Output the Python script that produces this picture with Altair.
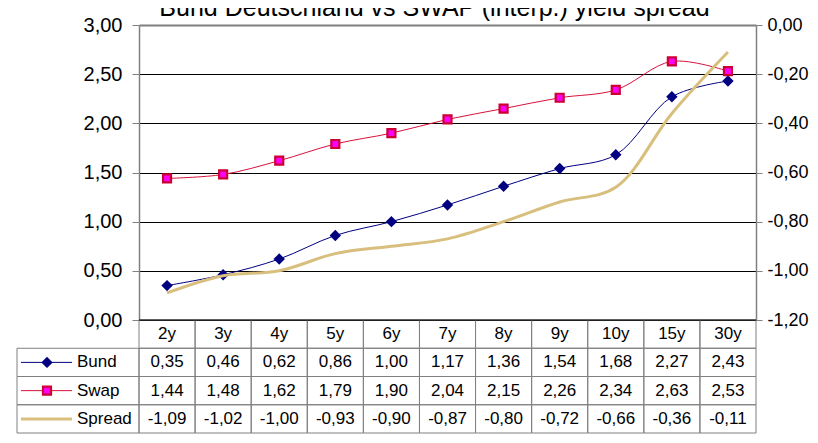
import altair as alt
import pandas as pd

# ---------------- data ----------------
cats = ["2y", "3y", "4y", "5y", "6y", "7y", "8y", "9y", "10y", "15y", "30y"]
bund = [0.35, 0.46, 0.62, 0.86, 1.00, 1.17, 1.36, 1.54, 1.68, 2.27, 2.43]
swap = [1.44, 1.48, 1.62, 1.79, 1.90, 2.04, 2.15, 2.26, 2.34, 2.63, 2.53]
spread = [-1.09, -1.02, -1.00, -0.93, -0.90, -0.87, -0.80, -0.72, -0.66, -0.36, -0.11]
series_names = ["Bund", "Swap", "Spread"]
table_rows = ["hdr", "Bund", "Swap", "Spread"]
title_text = "Bund Deutschland vs SWAP (interp.) yield spread"
left_ticks = [0.0, 0.5, 1.0, 1.5, 2.0, 2.5, 3.0]
right_ticks = [-1.2, -1.0, -0.8, -0.6, -0.4, -0.2, 0.0]

# ---------------- style ----------------
FONT = "Liberation Sans"
NAVY = "#000080"
CRIMSON = "#D8103C"
SQ_EDGE = "#CC0033"
MAGENTA = "#FF00FF"
TAN = "#D9BF7E"
GRAY = "#808080"
W, H = 617, 295

df_bund = pd.DataFrame({"cat": cats, "value": bund})
df_swap = pd.DataFrame({"cat": cats, "value": swap})
df_spread = pd.DataFrame({"cat": cats, "spread": spread})
df_header = pd.DataFrame({"cat": cats, "row": ["hdr"] * len(cats)})
df_vals = pd.concat([
    pd.DataFrame({"cat": cats, "row": name, "value": vals})
    for name, vals in zip(series_names, [bund, swap, spread])
], ignore_index=True)
df_cells = pd.concat([df_header, df_vals[["cat", "row"]]], ignore_index=True)
df_keys = pd.DataFrame({"row": series_names})

x_scale = alt.Scale(type="band", domain=cats, paddingInner=0, paddingOuter=0)
x_c = alt.X("cat:N", scale=x_scale, axis=None, bandPosition=0.5)
x_b = alt.X("cat:N", scale=x_scale, axis=None)

row_scale = alt.Scale(type="band", domain=table_rows, range=[295, 408],
                      paddingInner=0, paddingOuter=0)
row_b = alt.Y("row:N", scale=row_scale, axis=None)
row_c = alt.Y("row:N", scale=row_scale, axis=None, bandPosition=0.5)

left_axis = alt.Axis(
    orient="left", values=left_ticks, format=".2f", title=None,
    grid=True,
    gridColor={"condition": {"test": "datum.value >= 3", "value": GRAY}, "value": "black"},
    gridWidth={"condition": {"test": "datum.value >= 3", "value": 2}, "value": 1},
    domainColor=GRAY, domainWidth=1.5, tickColor=GRAY, tickSize=7, tickWidth=1,
    labelPadding=10, labelFontSize=20, labelFont=FONT, labelColor="black",
)
left_y = alt.Y("value:Q", scale=alt.Scale(domain=[0, 3], nice=False, zero=False), axis=left_axis)

right_axis = alt.Axis(
    orient="right", values=right_ticks, format=".2f", title=None, grid=False,
    domainColor=GRAY, domainWidth=1.5, tickColor=GRAY, tickSize=6, tickWidth=1,
    labelPadding=5, labelFontSize=18, labelFont=FONT, labelColor="black",
)
right_y = alt.Y("spread:Q", scale=alt.Scale(domain=[-1.2, 0], nice=False, zero=False), axis=right_axis)

# ---------------- table ----------------
cell_rects = alt.Chart(df_cells).mark_rect(fill="transparent", stroke=GRAY, strokeWidth=1).encode(
    x=x_b, y=row_b)
key_rects = alt.Chart(df_keys).mark_rect(fill="transparent", stroke=GRAY, strokeWidth=1).encode(
    x=alt.value(-122), x2=alt.value(0), y=row_b)
header_text = alt.Chart(df_header).mark_text(font=FONT, fontSize=17, color="black", baseline="middle").encode(
    x=x_c, y=row_c, text="cat:N")
value_text = alt.Chart(df_vals).mark_text(font=FONT, fontSize=17, color="black", baseline="middle").encode(
    x=x_c, y=row_c, text=alt.Text("value:Q", format=".2f"))
key_labels = alt.Chart(df_keys).mark_text(font=FONT, fontSize=17, color="black", baseline="middle", align="left").encode(
    x=alt.value(-62), y=row_c, text="row:N")

key_bund = alt.Chart(df_keys[df_keys.row == "Bund"])
key_swap = alt.Chart(df_keys[df_keys.row == "Swap"])
key_spread = alt.Chart(df_keys[df_keys.row == "Spread"])
kl_bund = key_bund.mark_rule(color=NAVY, strokeWidth=1).encode(x=alt.value(-118), x2=alt.value(-67), y=row_c)
kp_bund = key_bund.mark_point(shape="diamond", filled=True, size=130, color=NAVY, opacity=1).encode(
    x=alt.value(-92), y=row_c)
kl_swap = key_swap.mark_rule(color=CRIMSON, strokeWidth=1).encode(x=alt.value(-118), x2=alt.value(-67), y=row_c)
kp_swap = key_swap.mark_square(size=64, fill=MAGENTA, stroke=SQ_EDGE, strokeWidth=2.2, opacity=1).encode(
    x=alt.value(-92), y=row_c)
kl_spread = key_spread.mark_rule(color=TAN, strokeWidth=3).encode(x=alt.value(-118), x2=alt.value(-67), y=row_c)

table = alt.layer(cell_rects, key_rects, header_text, value_text, key_labels,
                  kl_bund, kp_bund, kl_swap, kp_swap, kl_spread)

# ---------------- left axis series ----------------
bund_line = alt.Chart(df_bund).mark_line(interpolate="catmull-rom", color=NAVY, strokeWidth=1).encode(x=x_c, y=left_y)
bund_pts = alt.Chart(df_bund).mark_point(shape="diamond", filled=True, size=130, color=NAVY, opacity=1).encode(
    x=x_c, y=left_y)
swap_line = alt.Chart(df_swap).mark_line(interpolate="catmull-rom", color=CRIMSON, strokeWidth=1).encode(x=x_c, y=left_y)
swap_pts = alt.Chart(df_swap).mark_square(size=64, fill=MAGENTA, stroke=SQ_EDGE, strokeWidth=2.2, opacity=1).encode(
    x=x_c, y=left_y)
zero_rule = alt.Chart(df_bund.head(1)).mark_rule(color="black", strokeWidth=1).encode(y=alt.datum(0))
left = alt.layer(zero_rule, bund_line, bund_pts, swap_line, swap_pts)

# ---------------- right axis series ----------------
spread_line = alt.Chart(df_spread).mark_line(interpolate="catmull-rom", color=TAN, strokeWidth=3).encode(
    x=x_c, y=right_y)

chart = alt.layer(table, left, spread_line).resolve_scale(y="independent").properties(
    width=W, height=H,
    padding={"left": 131, "top": 17, "right": 54, "bottom": 114},
    autosize=alt.AutoSizeParams(type="none"),
    title=alt.Title(title_text, font=FONT, fontSize=25, fontWeight="normal", color="black",
                    anchor="middle", frame="group", baseline="alphabetic", offset=-26, dx=-13),
).configure(
    locale={"number": {"decimal": ",", "thousands": ".", "grouping": [3],
                       "currency": ["", " €"], "minus": "-"}},
).configure_view(stroke=None)

chart.save("out.html", embed_options={"renderer": "svg", "actions": False})
